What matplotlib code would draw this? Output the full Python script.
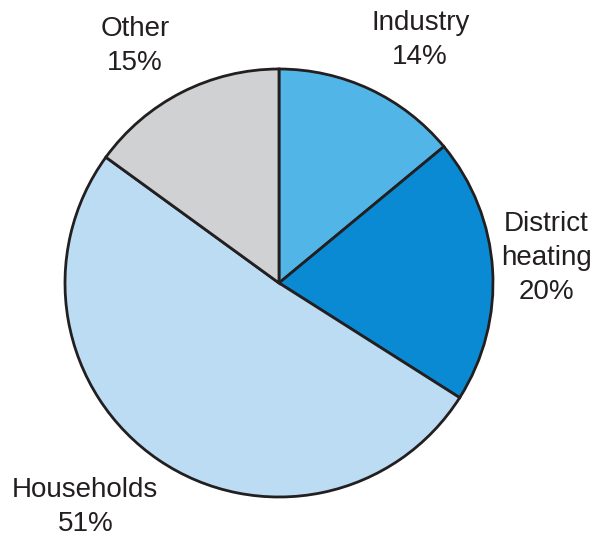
import matplotlib.pyplot as plt

labels = ['Industry', 'District heating', 'Households', 'Other']
shares = [14, 20, 51, 15]
colors = ['#52b5e8', '#0a8ad2', '#bcdcf3', '#d0d1d3']
label_text = ['Industry\n14%', 'District\nheating\n20%', 'Households\n51%', 'Other\n15%']
# label anchor points in pie units (radius = 1)
label_pos = [(0.66, 1.135), (1.25, 0.117), (-0.905, -1.047), (-0.672, 1.107)]

plt.rcParams['font.family'] = 'Liberation Sans'

fig = plt.figure(figsize=(5.92, 5.37), dpi=100)
cx, cy, r = 279, 283, 214
ax = fig.add_axes([(cx - r) / 592, (537 - cy - r) / 537, 2 * r / 592, 2 * r / 537])

ax.pie(shares, colors=colors, startangle=90, counterclock=False,
       wedgeprops=dict(edgecolor='#231f20', linewidth=2))
ax.set_xlim(-1, 1)
ax.set_ylim(-1, 1)
ax.set_aspect('equal')

for txt, (x, y) in zip(label_text, label_pos):
    ax.text(x, y, txt, ha='center', va='center', fontsize=20,
            color='#231f20', linespacing=1.4, clip_on=False)

fig.savefig('out.png', dpi=100)
